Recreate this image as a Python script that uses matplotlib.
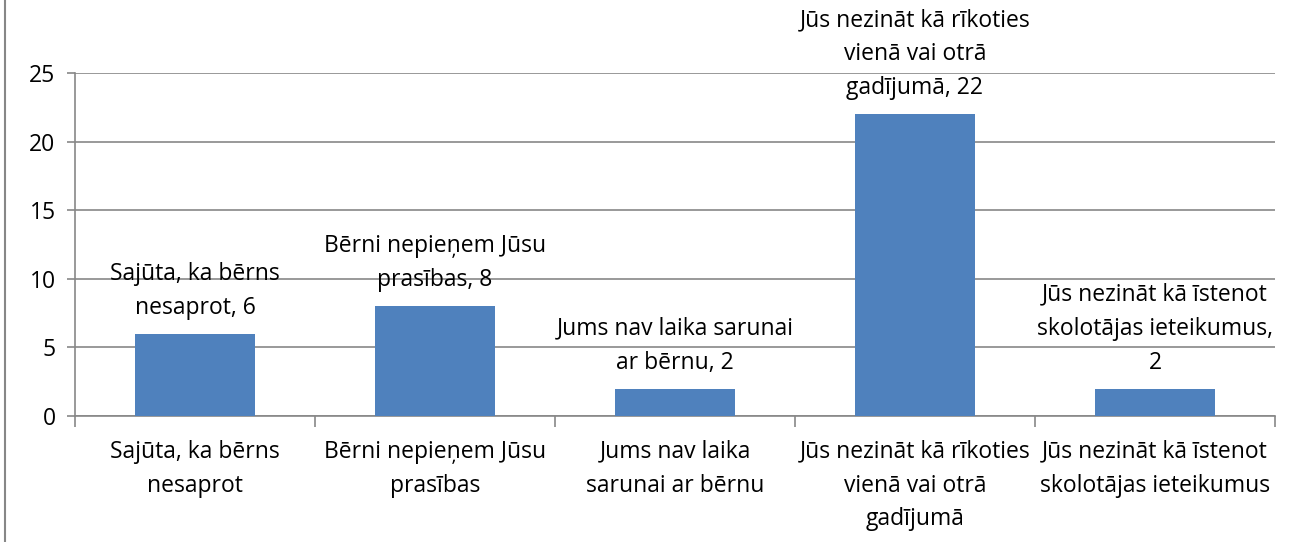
import matplotlib.pyplot as plt
from matplotlib.lines import Line2D
from matplotlib.ticker import FixedLocator

# Data
categories = ['Sajūta, ka bērns\nnesaprot',
              'Bērni nepieņem Jūsu\nprasības',
              'Jums nav laika\nsarunai ar bērnu',
              'Jūs nezināt kā rīkoties\nvienā vai otrā\ngadījumā',
              'Jūs nezināt kā īstenot\nskolotājas ieteikumus']
values = [6, 8, 2, 22, 2]
bar_labels = ['Sajūta, ka bērns\nnesaprot, 6',
              'Bērni nepieņem Jūsu\nprasības, 8',
              'Jums nav laika sarunai\nar bērnu, 2',
              'Jūs nezināt kā rīkoties\nvienā vai otrā\ngadījumā, 22',
              'Jūs nezināt kā īstenot\nskolotājas ieteikumus,\n2']

plt.rcParams['font.family'] = ['Open Sans', 'DejaVu Sans']
fs = 16.5
grey = '#878787'

fig = plt.figure(figsize=(12.91, 5.42), dpi=100)
ax = fig.add_axes([75/1291, 126/542, 1200/1291, 343/542])

x = range(len(values))
bars = ax.bar(x, values, width=0.5, color='#4F81BD', zorder=3)

for xi, v, lab in zip(x, values, bar_labels):
    ax.annotate(lab, (xi, v), xytext=(0, 10), textcoords='offset points',
                ha='center', va='bottom', fontsize=fs, linespacing=1.55,
                color='black', zorder=4)

ax.set_xlim(-0.5, len(values) - 0.5)
ax.set_ylim(0, 25)
ax.set_yticks([0, 5, 10, 15, 20, 25])
ax.yaxis.grid(True, color=grey, linewidth=1.2, zorder=0)
ax.set_axisbelow(True)

ax.set_xticks(list(x))
ax.set_xticklabels(categories, fontsize=fs, linespacing=1.55)
ax.tick_params(axis='x', length=0, pad=17)
ax.xaxis.set_minor_locator(FixedLocator([i - 0.5 for i in range(len(values) + 1)]))
ax.tick_params(axis='x', which='minor', length=8, color=grey, width=1.2)
ax.tick_params(axis='y', length=6, color=grey, width=1.2, labelsize=fs, pad=8)

for s in ['top', 'right']:
    ax.spines[s].set_visible(False)
for s in ['left', 'bottom']:
    ax.spines[s].set_color(grey)
    ax.spines[s].set_linewidth(1.2)

# chart frame edge on the left
fig.add_artist(Line2D([5/1291, 5/1291], [0, 1], color=grey, linewidth=1.5,
                      transform=fig.transFigure))

fig.savefig('out.png', dpi=100)
